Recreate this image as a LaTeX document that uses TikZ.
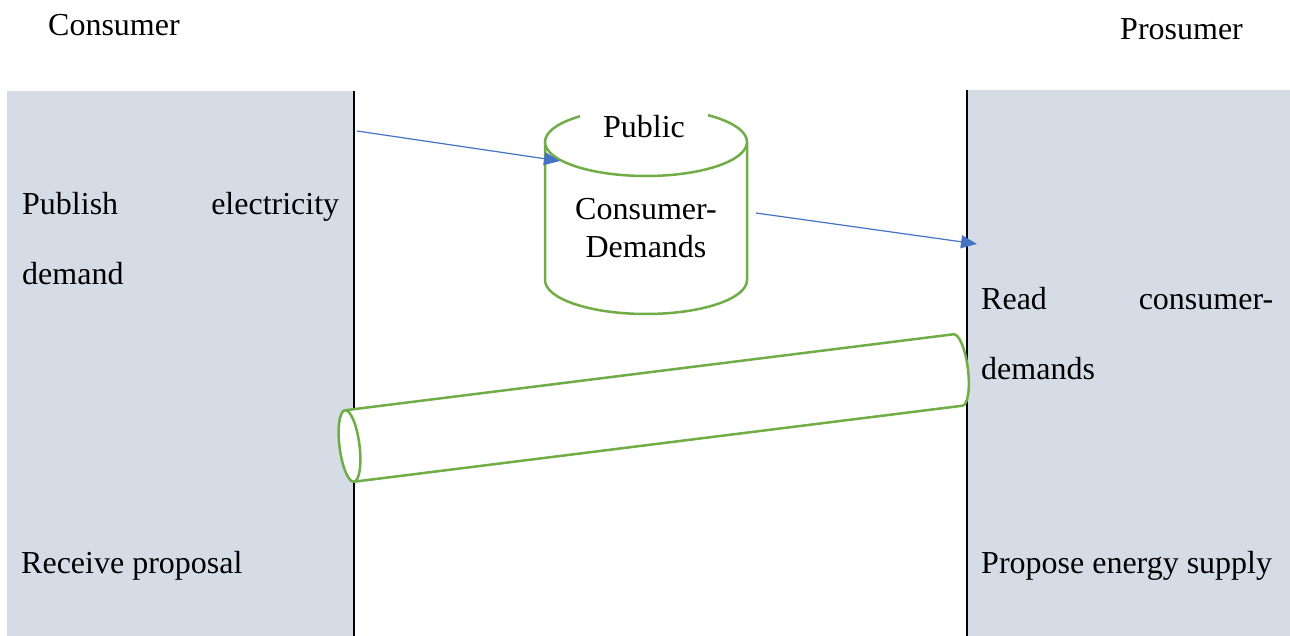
\documentclass[tikz,border=0pt]{standalone}
\usepackage{fontspec}
\setmainfont{Liberation Serif}
\usetikzlibrary{arrows.meta}
\definecolor{lanegray}{HTML}{D6DCE5}
\definecolor{flowblue}{HTML}{4472C4}
\definecolor{storegreen}{HTML}{70AD47}

\begin{document}
\begin{tikzpicture}[x=1pt, y=-1pt,
  lane/.style={fill=lanegray, draw=none},
  laneline/.style={draw=black, line width=2pt},
  lanetext/.style={inner sep=0pt, font={\fontsize{32}{70}\selectfont}},
  store/.style={draw=storegreen, line width=2.5pt, fill=white},
  flow/.style={draw=flowblue, line width=1.2pt, -{Triangle[length=16pt, width=13pt]}}]
\useasboundingbox (0,0) rectangle (1290,636);
\fill[white] (0,0) rectangle (1290,636);

% swimlanes
\fill[lane] (7,91) rectangle (354,636);
\fill[lane] (967,90) rectangle (1290,636);
\draw[laneline] (354,91) -- (354,636);
\draw[laneline] (967,90) -- (967,636);

% tilted pipe between the lanes
\begin{scope}[shift={(349.5,446)}, rotate=7.12]
  \path[store] (0,-36) -- (613.2,-36)
     arc[start angle=90, end angle=-90, x radius=10pt, y radius=36pt]
     -- (0,36) -- cycle;
  \draw[store] (0,0) ellipse [x radius=10pt, y radius=36pt];
\end{scope}

% public store of demands
\path[store] (545,142) -- (545,280)
   arc[start angle=180, end angle=360, x radius=101pt, y radius=34pt] -- (747,142);
\draw[store] (646,142) ellipse [x radius=101pt, y radius=34pt];

% headers
\node[lanetext, anchor=base west] (consumer) at (48,36) {Consumer};
\node[lanetext, anchor=base west] (prosumer) at (1120,40) {Prosumer};

% lane activities
\node[lanetext, anchor=base west, text width=317pt, align=left] (publish) at (22,215)
  {Publish\hfill electricity\\demand};
\node[lanetext, anchor=base west, text width=292pt, align=left] (read) at (981,309)
  {Read\hfill consumer-\\demands};
\node[lanetext, anchor=base west] (receive) at (21,573) {Receive proposal};
\node[lanetext, anchor=base west] (propose) at (981,573) {Propose energy supply};

% store labels
\node[lanetext, anchor=base, fill=white, inner xsep=23pt, inner ysep=14pt] (public) at (644,138) {Public};
\node[anchor=base, inner sep=0pt, text width=180pt, align=center,
      font={\fontsize{32}{38}\selectfont}] (demands) at (646,220) {Consumer-\\Demands};

% message flows
\coordinate (pubStart) at (357,131);
\coordinate (storeIn) at (560,161);
\coordinate (storeOut) at (756,213);
\coordinate (readEnd) at (977,244);
\draw[flow] (pubStart) -- (storeIn);
\draw[flow] (storeOut) -- (readEnd);
\end{tikzpicture}
\end{document}
